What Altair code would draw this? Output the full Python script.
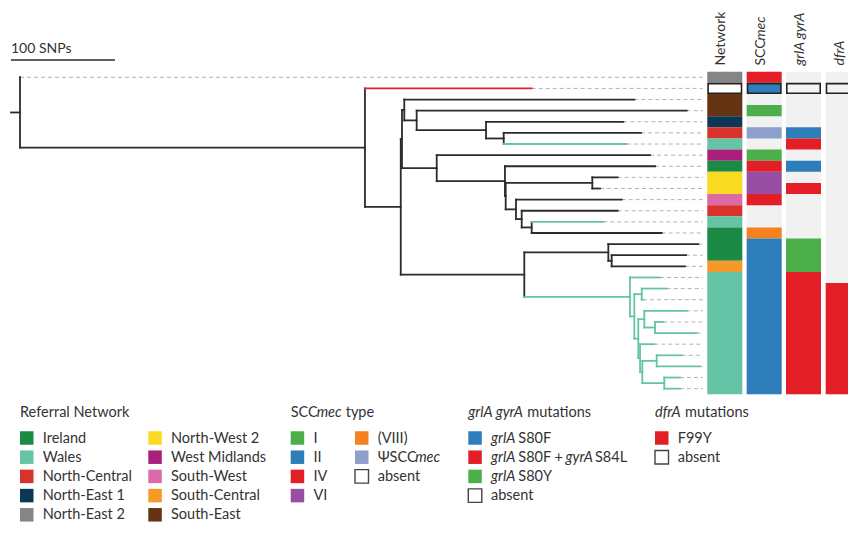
import altair as alt
import pandas as pd

# ------------------------------------------------------------------ data
# tree: tip depths (SNPs from root), tips are rows 0..28 top to bottom
tip_depth = [0.0, 492.0, 590.7, 641.1, 580.1, 597.1, 583.4, 605.8, 610.6,
             574.7, 557.7, 578.6, 574.7, 560.9, 617.0, 652.2, 640.4, 639.4,
             615.4, 621.8, 599.0, 641.1, 618.6, 650.7, 609.9, 636.3, 653.8,
             634.6, 634.6]
node_name = ["root", "A", "B", "P", "Q", "Q2", "Q3", "Q4", "R", "S1", "S2", "T", "U", "V", "W",
             "D", "E", "F", "G", "H", "I", "J", "K", "M", "L", "L2", "N", "O"]
node_depth = [0.0, 331.7, 366.1, 367.3, 369.5, 381.4, 448.1, 465.1, 400.7, 466.3,
              467.0, 550.3, 476.9, 482.4, 492.0, 484.9, 565.7, 568.9, 586.5,
              590.7, 597.8, 594.5, 600.3, 610.6, 596.2, 598.4, 612.2, 619.5]
node_child1 = ["t0", "t1", "P", "Q", "t2", "t3", "t4", "t5", "t7", "t8", "T", "t9", "t11", "t12", "t13",
               "E", "t15", "t16", "t18", "I", "t19", "K", "t21", "t22", "t24", "N", "t25", "t27"]
node_child2 = ["A", "B", "D", "R", "Q2", "Q3", "Q4", "t6", "S1", "S2", "U", "t10", "V", "W", "t14",
               "G", "F", "t17", "H", "J", "t20", "L", "M", "t23", "L2", "O", "t26", "t28"]
teal_clades = ["G", "t6", "t13"]
red_clades = ["t1"]
root_edge = 8.65
scale_bar_snps = 100

# metadata columns (one value per tip row)
network = ["North-East 2", "absent", "South-East", "South-East", "North-East 1", "North-Central",
           "Wales", "West Midlands", "Ireland", "North-West 2", "North-West 2", "South-West",
           "North-Central", "Wales", "Ireland", "Ireland", "Ireland", "South-Central"] + ["Wales"] * 11
sccmec = ["IV", "II", "absent", "I", "absent", "ΨSCCmec", "absent", "I", "IV", "VI", "VI", "IV",
          "absent", "absent", "(VIII)"] + ["II"] * 14
grla = (["absent"] * 5
        + ["grlA S80F", "grlA S80F + gyrA S84L", "absent", "grlA S80F", "absent", "grlA S80F + gyrA S84L"]
        + ["absent"] * 4 + ["grlA S80Y"] * 3 + ["grlA S80F + gyrA S84L"] * 11)
dfra = ["absent"] * 19 + ["F99Y"] * 10
highlight_rows = [1]

network_order = ["Ireland", "Wales", "North-Central", "North-East 1", "North-East 2",
                 "North-West 2", "West Midlands", "South-West", "South-Central", "South-East"]
network_colors = ["#1b8a45", "#66c4a6", "#d9322d", "#0c3756", "#858585",
                  "#fadb24", "#aa1f7e", "#dc69a8", "#f5992b", "#653413"]
sccmec_order = ["I", "II", "IV", "VI", "(VIII)", "ΨSCCmec", "absent"]
sccmec_colors = ["#4daf4a", "#2f7ebc", "#e41e26", "#984ea3", "#f58220", "#8da0cb", "white"]
grla_order = ["grlA S80F", "grlA S80F + gyrA S84L", "grlA S80Y", "absent"]
grla_colors = ["#2f7ebc", "#e41e26", "#4daf4a", "white"]
dfra_order = ["F99Y", "absent"]
dfra_colors = ["#e41e26", "white"]

# ------------------------------------------------------------------ layout
W, H = 840, 517
FONT = "Lato"
TXT = "#333333"
LINE = "#2b2b2b"
TEAL = "#66c4a6"
RED = "#e8232a"
BG = "#f0f1f0"
PX_PER_SNP = 1.04
X_ORIGIN = 12.0        # pixel of depth 0 in plot
ROW0 = 69.3            # pixel of row 0
ROW_H = 11.12
DASH_END = 656.5       # SNP units: where the leader lines stop
COL_LEFT = [699.3, 738.7, 778.0, 817.7]
COL_W = 35.0

xs = alt.Scale(domain=[-X_ORIGIN / PX_PER_SNP, (W - X_ORIGIN) / PX_PER_SNP], nice=False, zero=False)
ys = alt.Scale(domain=[-ROW0 / ROW_H, (H - ROW0) / ROW_H], nice=False, zero=False, reverse=True)

# ------------------------------------------------------------------ tree geometry
depth = {f"t{i}": d for i, d in enumerate(tip_depth)}
depth.update(dict(zip(node_name, node_depth)))
kids = {n: (a, b) for n, a, b in zip(node_name, node_child1, node_child2)}
ypos = {f"t{i}": float(i) for i in range(len(tip_depth))}


def get_y(n):
    if n not in ypos:
        a, b = kids[n]
        ypos[n] = (get_y(a) + get_y(b)) / 2
    return ypos[n]


get_y("root")
colour = {}


def paint(n, c):
    if n in teal_clades:
        c = TEAL
    elif n in red_clades:
        c = RED
    colour[n] = c
    if n in kids:
        for k in kids[n]:
            paint(k, c)


paint("root", LINE)

segs = []
for n in node_name:
    a, b = kids[n]
    segs.append(dict(x=depth[n], x2=depth[n], y=ypos[a], y2=ypos[b], c=colour[n]))
    for k in (a, b):
        segs.append(dict(x=depth[n], x2=depth[k], y=ypos[k], y2=ypos[k], c=colour[k]))
segs.append(dict(x=-root_edge, x2=0.0, y=ypos["root"], y2=ypos["root"], c=LINE))
seg_df = pd.DataFrame(segs)

lead_df = pd.DataFrame([dict(x=d, x2=DASH_END, y=float(i)) for i, d in enumerate(tip_depth) if d < DASH_END - 1])

bar_row = -1.555
bar_df = pd.DataFrame([dict(x=-root_edge, x2=-root_edge + scale_bar_snps, y=bar_row, t=f"{scale_bar_snps} SNPs")])

# ------------------------------------------------------------------ heatmap
cols = [network, sccmec, grla, dfra]
col_maps = [dict(zip(network_order, network_colors)), dict(zip(sccmec_order, sccmec_colors)),
            dict(zip(grla_order, grla_colors)), dict(zip(dfra_order, dfra_colors))]
bg_rows, cell_rows, hl_rows = [], [], []
for ci, (vals, cmap) in enumerate(zip(cols, col_maps)):
    x0 = COL_LEFT[ci]
    bg_rows.append(dict(x=x0, x2=x0 + COL_W, y=-0.5, y2=len(vals) - 0.5))
    run_start, run_val = None, None
    for r, v in enumerate(vals + ["__end__"]):
        if r in highlight_rows:
            fill = cmap.get(v, "white") if v != "absent" else ("white" if ci == 0 else "#f4f4f4")
            hl_rows.append(dict(x=x0 + 0.8, x2=x0 + COL_W - 0.8, y=r - 0.43, y2=r + 0.43, f=fill))
            v = "__hl__"
        if v != run_val:
            if run_val not in (None, "absent", "__hl__"):
                cell_rows.append(dict(x=x0, x2=x0 + COL_W, y=run_start - 0.5, y2=r - 0.5, f=cmap[run_val]))
            run_start, run_val = r, v
bg_df = pd.DataFrame(bg_rows)
cell_df = pd.DataFrame(cell_rows)
hl_df = pd.DataFrame(hl_rows)

# column headers (rotated)
HEAD_BOTTOM = 57.5
head = [[("Network", False, 0)], [("SCC", False, 0), ("mec", True, 25.0)],
        [("grlA gyrA", True, 0)], [("dfrA", True, 0)]]
head_rows = []
for ci, segsx in enumerate(head):
    for t, it, dy in segsx:
        head_rows.append(dict(x=COL_LEFT[ci] + COL_W / 2 + 0.5, y=HEAD_BOTTOM - dy, t=t, it=it))
head_df = pd.DataFrame(head_rows)

# ------------------------------------------------------------------ legend
LEG_TITLE_Y = 405.0
LEG_ROW0 = 430.0
LEG_DY = 19.2
SQ = 13.5
TXT_DX = 22.7
groups = [
    dict(x=12, title=[("Referral Network", False, 0)], cols=[(12, network_order[:5]), (140.3, network_order[5:])],
         cmap=col_maps[0]),
    dict(x=282.7, title=[("SCC", False, 0), ("mec", True, 26.0), ("type", False, 55.0)],
         cols=[(282.7, sccmec_order[:4]), (347.0, sccmec_order[4:])], cmap=col_maps[1]),
    dict(x=460.3, title=[("grlA gyrA", True, 0), ("mutations", False, 59.0)],
         cols=[(460.3, grla_order)], cmap=col_maps[2]),
    dict(x=647.0, title=[("dfrA", True, 0), ("mutations", False, 30.0)],
         cols=[(647.0, dfra_order)], cmap=col_maps[3]),
]
label_parts = {
    "grlA S80F": [("grlA", True, 0), ("S80F", False, 27.3)],
    "grlA S80F + gyrA S84L": [("grlA", True, 0), ("S80F +", False, 27.3), ("gyrA", True, 74.5),
                              ("S84L", False, 104.0)],
    "grlA S80Y": [("grlA", True, 0), ("S80Y", False, 27.3)],
    "ΨSCCmec": [("ΨSCC", False, 0), ("mec", True, 37.5)],
}
leg_sq, leg_abs, leg_txt = [], [], []
for g in groups:
    for t, it, dx in g["title"]:
        leg_txt.append(dict(x=g["x"] + dx, y=LEG_TITLE_Y, t=t, it=it))
    for cx, items in g["cols"]:
        for i, lab in enumerate(items):
            yc = LEG_ROW0 + i * LEG_DY
            rec = dict(x=cx, x2=cx + SQ, y=yc - SQ / 2, y2=yc + SQ / 2, f=g["cmap"][lab])
            (leg_abs if lab == "absent" else leg_sq).append(rec)
            for t, it, dx in label_parts.get(lab, [(lab, False, 0)]):
                leg_txt.append(dict(x=cx + TXT_DX + dx, y=yc + 0.5, t=t, it=it))
leg_sq_df = pd.DataFrame(leg_sq)
leg_abs_df = pd.DataFrame(leg_abs)
leg_txt_df = pd.DataFrame(leg_txt)

# ------------------------------------------------------------------ chart
X = lambda f: alt.X(f, scale=xs, axis=None)
Y = lambda f: alt.Y(f, scale=ys, axis=None)
PX = lambda f: alt.X(f, scale=None, axis=None)
PY = lambda f: alt.Y(f, scale=None, axis=None)

leaders = alt.Chart(lead_df).mark_rule(color="#b3b3b3", strokeWidth=1, strokeDash=[4, 3]).encode(
    x=X("x:Q"), x2="x2:Q", y=Y("y:Q"))
tree = alt.Chart(seg_df).mark_rule(strokeWidth=1.8, strokeCap="square").encode(
    x=X("x:Q"), x2="x2:Q", y=Y("y:Q"), y2="y2:Q", color=alt.Color("c:N", scale=None))
bar = alt.Chart(bar_df).mark_rule(color=LINE, strokeWidth=1.4).encode(x=X("x:Q"), x2="x2:Q", y=Y("y:Q"))
bar_txt = alt.Chart(bar_df).mark_text(font=FONT, fontSize=14, color=TXT, align="left", baseline="bottom",
                                      dy=-4).encode(x=X("x:Q"), y=Y("y:Q"), text="t:N")

bg = alt.Chart(bg_df).mark_rect(color=BG).encode(x=PX("x:Q"), x2="x2:Q", y=Y("y:Q"), y2="y2:Q")
cells = alt.Chart(cell_df).mark_rect().encode(x=PX("x:Q"), x2="x2:Q", y=Y("y:Q"), y2="y2:Q",
                                               fill=alt.Fill("f:N", scale=None))
hl = alt.Chart(hl_df).mark_rect(stroke="#222222", strokeWidth=1.6).encode(
    x=PX("x:Q"), x2="x2:Q", y=Y("y:Q"), y2="y2:Q", fill=alt.Fill("f:N", scale=None))

heads = [
    alt.Chart(head_df[head_df.it == it]).mark_text(font=FONT, fontSize=14, color=TXT, angle=270, align="left",
                                                   baseline="alphabetic", fontStyle=("italic" if it else "normal")
                                                   ).encode(x=PX("x:Q"), y=PY("y:Q"), text="t:N")
    for it in (False, True)
]

lsq = alt.Chart(leg_sq_df).mark_rect().encode(x=PX("x:Q"), x2="x2:Q", y=PY("y:Q"), y2="y2:Q",
                                               fill=alt.Fill("f:N", scale=None))
labs = alt.Chart(leg_abs_df).mark_rect(fill="white", stroke="#444444", strokeWidth=1.4).encode(
    x=PX("x:Q"), x2="x2:Q", y=PY("y:Q"), y2="y2:Q")
ltxt = [
    alt.Chart(leg_txt_df[leg_txt_df.it == it]).mark_text(font=FONT, fontSize=14.5, color=TXT, align="left",
                                                         baseline="middle",
                                                         fontStyle=("italic" if it else "normal")).encode(
        x=PX("x:Q"), y=PY("y:Q"), text="t:N")
    for it in (False, True)
]

chart = alt.layer(leaders, tree, bar, bar_txt, bg, cells, hl, *heads, lsq, labs, *ltxt).properties(
    width=W, height=H, padding=0, autosize=alt.AutoSizeParams(type="none")
).configure_view(strokeWidth=0)

chart.save("out.html", embed_options={"renderer": "svg", "actions": False})
